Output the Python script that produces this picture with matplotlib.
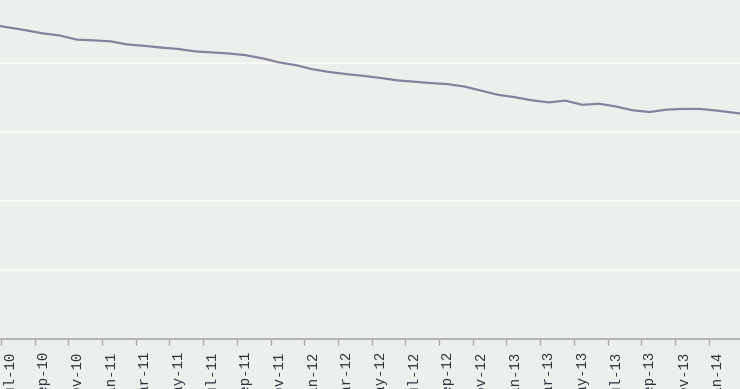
import matplotlib
matplotlib.use("Agg")
import matplotlib.pyplot as plt
import numpy as np

# monthly series, Jun-10 .. Mar-14 (ends are clipped by the view, as in the picture)
months = ["Jun-10", "Jul-10", "Aug-10", "Sep-10", "Oct-10", "Nov-10", "Dec-10",
          "Jan-11", "Feb-11", "Mar-11", "Apr-11", "May-11", "Jun-11", "Jul-11",
          "Aug-11", "Sep-11", "Oct-11", "Nov-11", "Dec-11", "Jan-12", "Feb-12",
          "Mar-12", "Apr-12", "May-12", "Jun-12", "Jul-12", "Aug-12", "Sep-12",
          "Oct-12", "Nov-12", "Dec-12", "Jan-13", "Feb-13", "Mar-13", "Apr-13",
          "May-13", "Jun-13", "Jul-13", "Aug-13", "Sep-13", "Oct-13", "Nov-13",
          "Dec-13", "Jan-14", "Feb-14", "Mar-14"]
values = [91.0, 90.2, 89.4, 88.5, 87.9, 86.7, 86.5, 86.2, 85.3, 84.9, 84.4,
          84.0, 83.3, 83.0, 82.7, 82.2, 81.3, 80.1, 79.3, 78.1, 77.3, 76.7,
          76.2, 75.6, 74.9, 74.5, 74.1, 73.8, 73.1, 71.9, 70.7, 70.0, 69.1,
          68.5, 69.0, 67.8, 68.1, 67.3, 66.2, 65.7, 66.4, 66.6, 66.6, 66.1,
          65.5, 64.9]
grid_values = [20, 40, 60, 80]

bg = "#ECF0EC"
line_col = "#8781A0"

fig = plt.figure(figsize=(7.4, 3.89), dpi=100)
fig.patch.set_facecolor(bg)
ax = fig.add_axes([0, (389 - 338.5) / 389, 1, 338.5 / 389])
ax.set_facecolor(bg)

# index 0 is Jun-10; Jul-10 is index 1
x = np.arange(len(months)) - 1
ax.plot(x, values, color=line_col, linewidth=1.6, solid_capstyle="round")

# y scale: axis at 0, top of picture a bit below the next gridline
ax.set_ylim(0, 98.2)
ax.set_xlim(-0.558, 43.36)
ax.set_yticks(grid_values)
ax.yaxis.grid(True, color="#FAFCF8", linewidth=1.3)
ax.set_axisbelow(True)
ax.tick_params(axis="y", left=False, labelleft=False)

# tick marks between categories, labels on every second month
label_idx = list(range(1, 45, 2))
ax.set_xticks([i - 1 - 0.5 for i in label_idx])
ax.set_xticklabels([])
ax.set_xticks([i - 1 for i in label_idx], minor=True)
ax.set_xticklabels([months[i] for i in label_idx], minor=True, rotation=90,
                   fontsize=10, family="Liberation Mono", color="#2E2E3A",
                   va="top", ha="center")
ax.tick_params(axis="x", which="major", length=4.3, width=1, color="#A8A4B2",
               direction="out")
ax.tick_params(axis="x", which="minor", length=0, pad=9.0)

for s in ["top", "left", "right"]:
    ax.spines[s].set_visible(False)
ax.spines["bottom"].set_color("#B4B0BC")
ax.spines["bottom"].set_linewidth(1.4)

fig.savefig("out.png", dpi=100, facecolor=bg)
